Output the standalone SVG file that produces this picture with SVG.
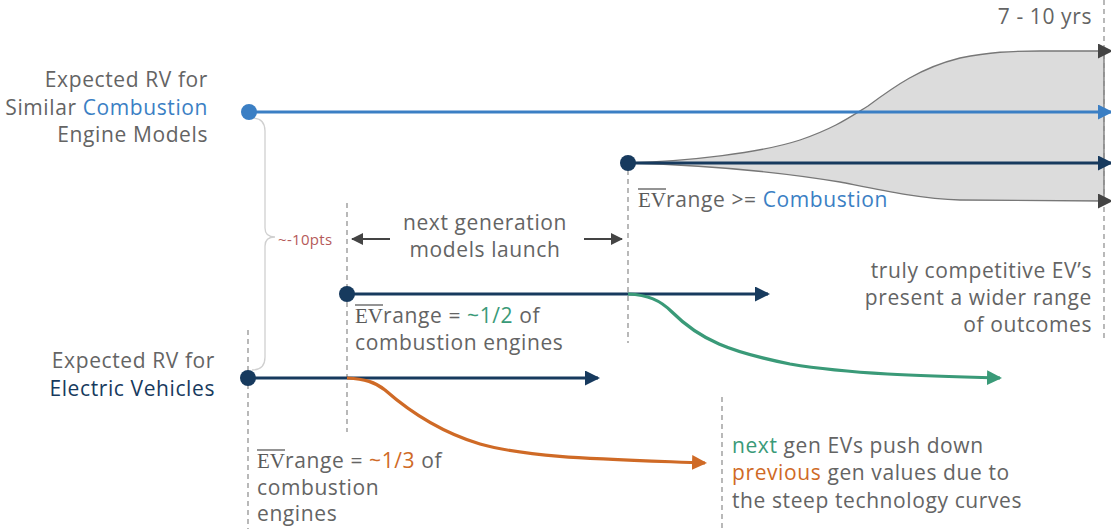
<svg xmlns="http://www.w3.org/2000/svg" width="1111" height="529" viewBox="0 0 1111 529">
<defs>
<style>
text{font-family:"Open Sans","Liberation Sans",sans-serif;font-size:21px;fill:#646464;font-weight:400;letter-spacing:0.6px}
.blue{fill:#3b7fc4}
.navy{fill:#173a5e}
.green{fill:#3a9a78}
.orange{fill:#cf6a26}
.red{fill:#b55a5a;font-size:15px;letter-spacing:0.3px}
.ev{font-family:"Liberation Serif","DejaVu Serif",serif;font-weight:400;fill:#5a5a5a;letter-spacing:0}
.r{text-anchor:end}
.m{text-anchor:middle}
.dash{stroke:#8a8a8a;stroke-width:1.2;stroke-dasharray:5 4;fill:none}
.ol{stroke:#5a5a5a;stroke-width:1.3}
</style>
<marker id="aBlue" viewBox="0 0 15 15" refX="13" refY="7.5" markerWidth="15" markerHeight="15" markerUnits="userSpaceOnUse" orient="auto"><path d="M0,0 L15,7.5 L0,15 z" fill="#3b7fc4"/></marker>
<marker id="aNavy" viewBox="0 0 15 15" refX="13" refY="7.5" markerWidth="15" markerHeight="15" markerUnits="userSpaceOnUse" orient="auto"><path d="M0,0 L15,7.5 L0,15 z" fill="#173a5e"/></marker>
<marker id="aGray" viewBox="0 0 15 15" refX="13" refY="7.5" markerWidth="15" markerHeight="15" markerUnits="userSpaceOnUse" orient="auto"><path d="M0,0 L15,7.5 L0,15 z" fill="#444"/></marker>
<marker id="aGreen" viewBox="0 0 15 15" refX="13" refY="7.5" markerWidth="15" markerHeight="15" markerUnits="userSpaceOnUse" orient="auto"><path d="M0,0 L15,7.5 L0,15 z" fill="#3a9a78"/></marker>
<marker id="aOrange" viewBox="0 0 15 15" refX="13" refY="7.5" markerWidth="15" markerHeight="15" markerUnits="userSpaceOnUse" orient="auto"><path d="M0,0 L15,7.5 L0,15 z" fill="#cf6a26"/></marker>
<marker id="aSmall" viewBox="0 0 12 12" refX="11" refY="6" markerWidth="12" markerHeight="12" markerUnits="userSpaceOnUse" orient="auto"><path d="M0,0 L12,6 L0,12 z" fill="#444"/></marker>
</defs>
<rect width="1111" height="529" fill="#fff"/>

<g id="range-fan">
<path d="M628,163 C690,161 760,153 800,140 C835,128 850,117 868,106 C895,86 920,68 960,58 C990,52 1010,51 1040,51 L1104,51 L1104,201 L960,200 C920,199 880,190 840,182 C780,172 700,165 628,163 z" fill="#dcdcdc" stroke="#777" stroke-width="1.3"/>
</g>

<g id="guides">
<line class="dash" x1="1104" y1="0" x2="1104" y2="340"/>
<line class="dash" x1="248" y1="330" x2="248" y2="529"/>
<line class="dash" x1="347" y1="203" x2="347" y2="432"/>
<line class="dash" x1="628" y1="170" x2="628" y2="343"/>
<line class="dash" x1="722" y1="397" x2="722" y2="529"/>
<path d="M252,118 Q265,118 265,131 L265,228 Q265,237 275,237 Q265,237 265,246 L265,357 Q265,370 252,370" fill="none" stroke="#d0d0d0" stroke-width="1.3"/>
</g>

<g id="connectors" fill="none">
<line x1="249" y1="112" x2="1111" y2="112" stroke="#3b7fc4" stroke-width="3" marker-end="url(#aBlue)"/>
<line x1="628" y1="163" x2="1111" y2="163" stroke="#173a5e" stroke-width="3" marker-end="url(#aNavy)"/>
<line x1="1100" y1="51" x2="1111" y2="51" stroke="#444" stroke-width="1" marker-end="url(#aGray)"/>
<line x1="1100" y1="201" x2="1111" y2="201" stroke="#444" stroke-width="1" marker-end="url(#aGray)"/>
<line x1="347" y1="294" x2="768" y2="294" stroke="#173a5e" stroke-width="3" marker-end="url(#aNavy)"/>
<line x1="248" y1="378" x2="598" y2="378" stroke="#173a5e" stroke-width="3" marker-end="url(#aNavy)"/>
<path d="M347,378 C365,379 375,382 385,390 C410,412 440,432 480,444 C530,458 600,459 705,463" stroke="#cf6a26" stroke-width="3.2" marker-end="url(#aOrange)"/>
<path d="M628,294 C648,295 660,300 672,312 C700,340 730,352 790,364 C850,374 920,376 1000,378" stroke="#3a9a78" stroke-width="3.2" marker-end="url(#aGreen)"/>
<line x1="390" y1="239" x2="352" y2="239" stroke="#444" stroke-width="2.2" marker-end="url(#aSmall)"/>
<line x1="584" y1="239" x2="622" y2="239" stroke="#444" stroke-width="2.2" marker-end="url(#aSmall)"/>
</g>

<g id="node-combustion">
<circle cx="249" cy="112" r="8" fill="#3b7fc4"/>
<text class="r" x="208" y="87">Expected RV for</text>
<text class="r" x="208" y="115">Similar <tspan class="blue">Combustion</tspan></text>
<text class="r" x="208" y="142">Engine Models</text>
</g>

<g id="node-ev">
<circle cx="248" cy="378" r="8" fill="#173a5e"/>
<text class="r" x="215" y="368">Expected RV for</text>
<text class="r navy" x="215" y="396">Electric Vehicles</text>
</g>

<g id="node-gen2">
<circle cx="347" cy="294" r="8" fill="#173a5e"/>
<text x="355" y="323"><tspan class="ev">EV</tspan>range = <tspan class="green">~1/2</tspan> of</text>
<line class="ol" x1="355" y1="305" x2="383" y2="305"/>
<text x="355" y="350">combustion engines</text>
</g>

<g id="node-gen3">
<circle cx="628" cy="163" r="8" fill="#173a5e"/>
<text x="638" y="207"><tspan class="ev">EV</tspan>range &gt;= <tspan class="blue">Combustion</tspan></text>
<line class="ol" x1="638" y1="189" x2="666" y2="189"/>
</g>

<g id="label-gen1">
<text x="257" y="468"><tspan class="ev">EV</tspan>range = <tspan class="orange">~1/3</tspan> of</text>
<line class="ol" x1="257" y1="450" x2="285" y2="450"/>
<text x="257" y="495">combustion</text>
<text x="257" y="521">engines</text>
</g>

<g id="label-launch">
<text class="m" x="485" y="230">next generation</text>
<text class="m" x="485" y="257">models launch</text>
</g>

<g id="label-brace">
<text class="red" x="278" y="245">~-10pts</text>
</g>

<g id="label-years">
<text class="r" x="1092" y="24">7 - 10 yrs</text>
</g>

<g id="label-competitive">
<text class="r" x="1092" y="278">truly competitive EV’s</text>
<text class="r" x="1092" y="305">present a wider range</text>
<text class="r" x="1092" y="332">of outcomes</text>
</g>

<g id="label-push">
<text x="732" y="453"><tspan class="green">next</tspan> gen EVs push down</text>
<text x="732" y="480"><tspan class="orange">previous</tspan> gen values due to</text>
<text x="732" y="508">the steep technology curves</text>
</g>
</svg>
